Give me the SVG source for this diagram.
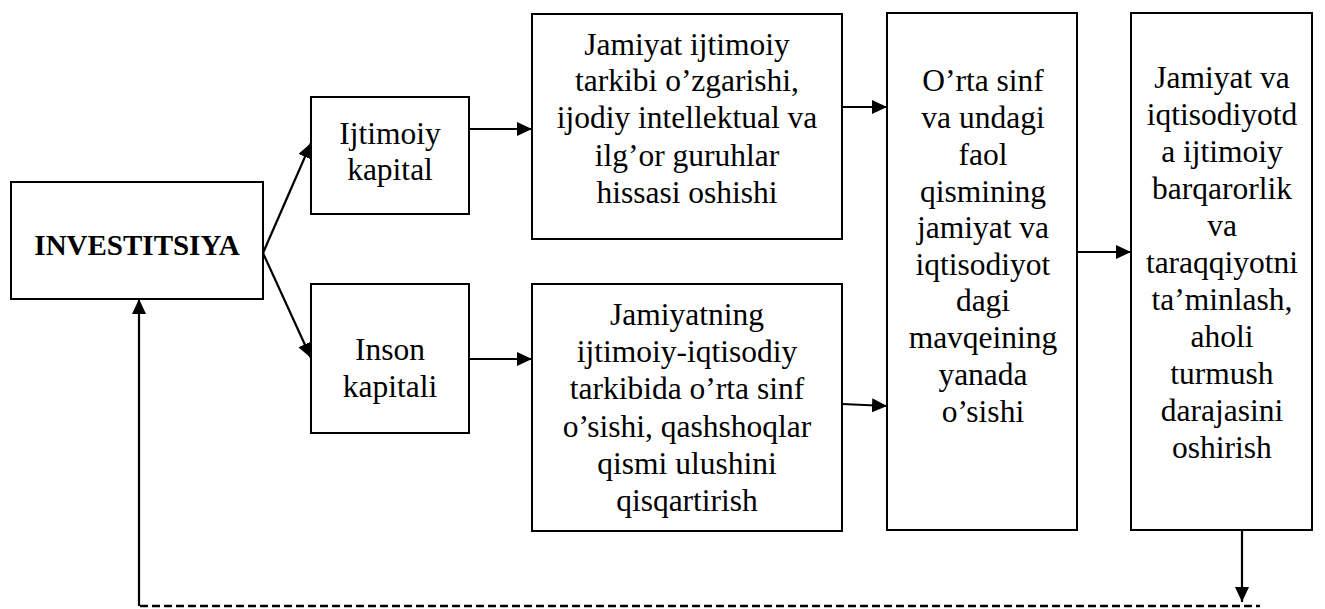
<svg xmlns="http://www.w3.org/2000/svg" width="1325" height="609" viewBox="0 0 1325 609">
<style>
.box{fill:#fff;stroke:#000;stroke-width:2}
text{font-family:'Liberation Serif','DejaVu Serif',serif;font-size:31.5px;fill:#000;text-anchor:middle}
.b{font-weight:bold;font-size:29px}
.c{fill:none;stroke:#000;stroke-width:2.2}
.d{fill:none;stroke:#000;stroke-width:2.5;stroke-dasharray:8,4}
</style>
<defs>
<marker id="ah" markerUnits="userSpaceOnUse" markerWidth="15" markerHeight="14" refX="15" refY="7" orient="auto">
<path d="M0,0 L15,7 L0,14 Z" fill="#000"/>
</marker>
</defs>
<g id="investitsiya">
<rect class="box" x="11" y="182" width="252" height="117"/>
<text class="b" x="137" y="255">INVESTITSIYA</text>
</g>
<g id="ijtimoiy-kapital">
<rect class="box" x="311" y="97" width="158" height="117"/>
<text x="390" y="144">Ijtimoiy</text>
<text x="390" y="180">kapital</text>
</g>
<g id="inson-kapitali">
<rect class="box" x="311" y="284" width="158" height="149"/>
<text x="390" y="360">Inson</text>
<text x="390" y="397">kapitali</text>
</g>
<g id="jamiyat-tarkibi">
<rect class="box" x="532" y="14" width="310" height="225"/>
<text x="687" y="55">Jamiyat ijtimoiy</text>
<text x="687" y="91">tarkibi o’zgarishi,</text>
<text x="687" y="128">ijodiy intellektual va</text>
<text x="687" y="166">ilg’or guruhlar</text>
<text x="687" y="203">hissasi oshishi</text>
</g>
<g id="jamiyatning-tarkibi">
<rect class="box" x="532" y="284" width="310" height="247"/>
<text x="687" y="325">Jamiyatning</text>
<text x="687" y="362">ijtimoiy-iqtisodiy</text>
<text x="687" y="399">tarkibida o’rta sinf</text>
<text x="687" y="437">o’sishi, qashshoqlar</text>
<text x="687" y="474">qismi ulushini</text>
<text x="687" y="511">qisqartirish</text>
</g>
<g id="orta-sinf">
<rect class="box" x="887" y="13" width="190" height="517"/>
<text x="983" y="91">O’rta sinf</text>
<text x="983" y="128">va undagi</text>
<text x="983" y="165">faol</text>
<text x="983" y="202">qismining</text>
<text x="983" y="238">jamiyat va</text>
<text x="983" y="275">iqtisodiyot</text>
<text x="983" y="311">dagi</text>
<text x="983" y="348">mavqeining</text>
<text x="983" y="385">yanada</text>
<text x="983" y="422">o’sishi</text>
</g>
<g id="barqarorlik">
<rect class="box" x="1131" y="13" width="181" height="517"/>
<text x="1222" y="88">Jamiyat va</text>
<text x="1222" y="125">iqtisodiyotd</text>
<text x="1222" y="162">a ijtimoiy</text>
<text x="1222" y="199">barqarorlik</text>
<text x="1222" y="236">va</text>
<text x="1222" y="273">taraqqiyotni</text>
<text x="1222" y="310">ta’minlash,</text>
<text x="1222" y="347">aholi</text>
<text x="1222" y="384">turmush</text>
<text x="1222" y="421">darajasini</text>
<text x="1222" y="458">oshirish</text>
</g>
<g id="connectors">
<line class="c" x1="263" y1="253" x2="311" y2="143" marker-end="url(#ah)"/>
<line class="c" x1="263" y1="253" x2="311" y2="358" marker-end="url(#ah)"/>
<line class="c" x1="469" y1="129" x2="532" y2="129" marker-end="url(#ah)"/>
<line class="c" x1="469" y1="359" x2="532" y2="359" marker-end="url(#ah)"/>
<line class="c" x1="842" y1="107" x2="887" y2="107" marker-end="url(#ah)"/>
<line class="c" x1="842" y1="404" x2="887" y2="406" marker-end="url(#ah)"/>
<line class="c" x1="1077" y1="252" x2="1131" y2="252" marker-end="url(#ah)"/>
<line class="c" x1="1242" y1="530" x2="1242" y2="602" marker-end="url(#ah)"/>
<line class="d" x1="140" y1="606" x2="1260" y2="606"/>
<line class="c" x1="139" y1="606" x2="139" y2="299" marker-end="url(#ah)"/>
</g>
</svg>
